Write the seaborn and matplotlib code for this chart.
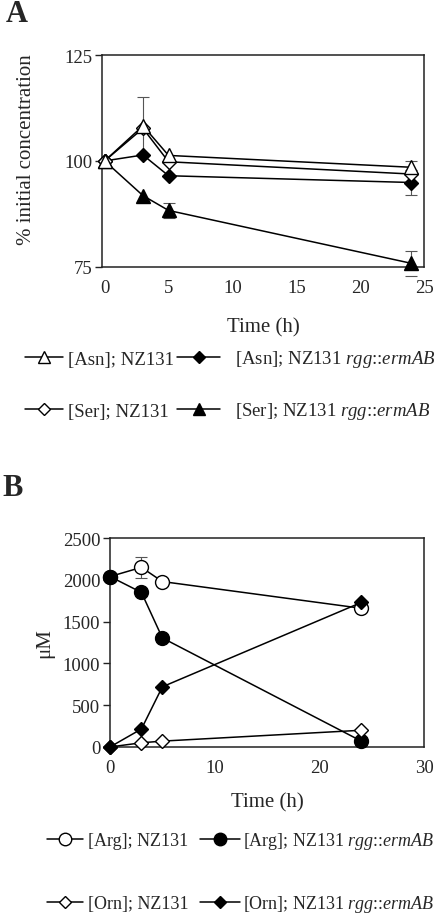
import matplotlib
matplotlib.use("Agg")
import matplotlib.pyplot as plt
import seaborn as sns
import numpy as np
import pandas as pd
from matplotlib.lines import Line2D

# ---- data ----
time_a = [0, 3, 5, 24]
asn_wt = [100, 108.3, 101.3, 98.5]
asn_wt_err = [0, 6.7, 0, 1.5]
ser_wt = [100, 107.7, 99.8, 96.9]
ser_wt_err = [0, 0, 0, 0]
asn_rgg = [100, 101.4, 96.5, 94.9]
asn_rgg_err = [0, 0, 0, 2.9]
ser_rgg = [100, 91.8, 88.3, 75.8]
ser_rgg_err = [0, 0, 1.7, 3.0]

time_b = [0, 3, 5, 24]
arg_wt = [2040, 2150, 1980, 1660]
arg_wt_err = [0, 125, 0, 0]
arg_rgg = [2040, 1850, 1305, 70]
orn_wt = [0, 50, 70, 200]
orn_rgg = [0, 215, 720, 1730]

labels_a = ["[Asn]; NZ131", "[Ser]; NZ131",
            "[Asn]; NZ131 $\\it{rgg}$::$\\it{ermAB}$",
            "[Ser]; NZ131 $\\it{rgg}$::$\\it{ermAB}$"]
labels_b = ["[Arg]; NZ131", "[Orn]; NZ131",
            "[Arg]; NZ131 $\\it{rgg}$::$\\it{ermAB}$",
            "[Orn]; NZ131 $\\it{rgg}$::$\\it{ermAB}$"]

sns.set_theme(style="ticks")
plt.rcParams["font.family"] = ["Liberation Serif", "DejaVu Serif"]
plt.rcParams["mathtext.fontset"] = "custom"
plt.rcParams["mathtext.rm"] = "Liberation Serif"
plt.rcParams["mathtext.it"] = "Liberation Serif:italic"
plt.rcParams["axes.edgecolor"] = "#222222"
plt.rcParams["axes.linewidth"] = 1.1

fig = plt.figure(figsize=(4.4, 9.2), dpi=100)
axA = fig.add_axes([0.232, 0.709, 0.732, 0.230])
axB = fig.add_axes([0.250, 0.187, 0.714, 0.227])

TICK_FS = 13.5
LAB_FS = 15


def series(ax, x, y, err, marker, filled, ms):
    df = pd.DataFrame({"x": x, "y": y})
    fc = "black" if filled else "white"
    sns.lineplot(data=df, x="x", y="y", ax=ax, color="black", linewidth=1.1,
                 marker=marker, markersize=ms, markerfacecolor=fc,
                 markeredgecolor="black", markeredgewidth=1.0, zorder=3)
    if err is not None and any(e > 0 for e in err):
        xs = [xi for xi, e in zip(x, err) if e > 0]
        ys = [yi for yi, e in zip(y, err) if e > 0]
        es = [e for e in err if e > 0]
        ax.errorbar(xs, ys, yerr=es, fmt="none", ecolor="#555555",
                    elinewidth=0.8, capsize=4, capthick=0.8, zorder=2)

# Panel A
series(axA, time_a, ser_rgg, ser_rgg_err, "^", True, 10)
series(axA, time_a, asn_rgg, asn_rgg_err, "D", True, 7.5)
series(axA, time_a, ser_wt, ser_wt_err, "D", False, 7.5)
series(axA, time_a, asn_wt, asn_wt_err, "^", False, 10)
axA.set_xlim(-0.2, 25)
axA.set_ylim(75, 125)
axA.set_xticks([0, 5, 10, 15, 20, 25])
axA.set_yticks([75, 100, 125])
axA.set_xlabel("Time (h)", fontsize=LAB_FS, labelpad=15)
axA.set_ylabel("% initial concentration", fontsize=LAB_FS)
axA.yaxis.set_label_coords(-0.204, 0.557)

# Panel B
series(axB, time_b, arg_wt, arg_wt_err, "o", False, 10)
series(axB, time_b, arg_rgg, None, "o", True, 10)
series(axB, time_b, orn_wt, None, "D", False, 7.5)
series(axB, time_b, orn_rgg, None, "D", True, 7.5)
axB.set_xlim(0, 30)
axB.set_ylim(0, 2500)
axB.set_xticks([0, 10, 20, 30])
axB.set_yticks([0, 500, 1000, 1500, 2000, 2500])
axB.set_xlabel("Time (h)", fontsize=LAB_FS, labelpad=11)
axB.set_ylabel("μM", fontsize=LAB_FS, labelpad=6)

for ax in (axA, axB):
    for s in ax.spines.values():
        s.set_visible(True)
    ax.tick_params(axis="y", length=5, width=1, labelsize=TICK_FS, pad=2, color="#222222")
    ax.tick_params(axis="x", length=0, labelsize=TICK_FS, pad=9)
    for ln in ax.lines:
        ln.set_clip_on(False)


def h(marker, filled, ms):
    return Line2D([], [], color="black", linewidth=1.1, marker=marker, markersize=ms,
                  markerfacecolor="black" if filled else "white",
                  markeredgecolor="black", markeredgewidth=1.0)

hA = [h("^", False, 9), h("D", False, 6.5), h("D", True, 6.5), h("^", True, 9)]
hB = [h("o", False, 9), h("D", False, 6.5), h("o", True, 9), h("D", True, 6.5)]

W, H = 440.0, 920.0
# (x, y, handlelength, handletextpad, fontsize)
posA = [(25, 360, 2.0, 0.3, 13.5), (25, 412, 2.0, 0.3, 13.5),
        (177, 360, 2.3, 0.8, 13.5), (177, 412, 2.3, 0.8, 13.5)]
posB = [(47, 842, 2.0, 0.25, 13.0), (47, 905, 2.0, 0.25, 13.0),
        (200, 842, 2.2, 0.2, 13.0), (200, 905, 2.2, 0.2, 13.0)]


def entry(handle, label, px, py, hl, tp, fs):
    fig.legend([handle], [label], loc="center left",
               bbox_to_anchor=(px / W, 1 - py / H), bbox_transform=fig.transFigure,
               frameon=False, fontsize=fs, handlelength=hl,
               handletextpad=tp, borderpad=0, borderaxespad=0)

for hd, lb, p in zip(hA, labels_a, posA):
    entry(hd, lb, *p)
for hd, lb, p in zip(hB, labels_b, posB):
    entry(hd, lb, *p)

fig.text(0.012, 1 - 15 / H, "A", fontsize=22, fontweight="bold", va="center", ha="left")
fig.text(0.005, 1 - 489 / H, "B", fontsize=22, fontweight="bold", va="center", ha="left")

fig.savefig("out.png", dpi=100)
